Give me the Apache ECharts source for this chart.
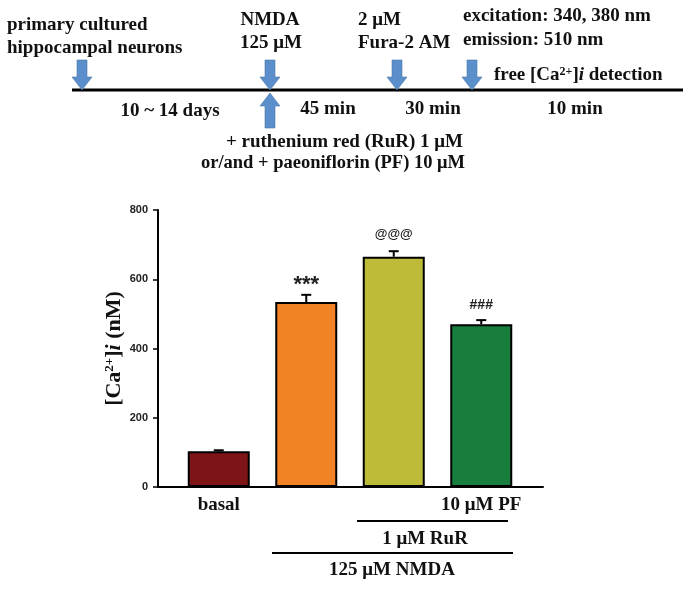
<!DOCTYPE html>
<html>
<head>
<meta charset="utf-8">
<script src="https://cdn.jsdelivr.net/npm/echarts@6/dist/echarts.min.js"></script>
<style>
  html, body { margin: 0; padding: 0; background: #fff; }
  #chart { width: 692px; height: 589px; }
</style>
</head>
<body>
<div id="chart"></div>
<script>
// groups on the bar chart
const categories = ['basal', 'NMDA', 'NMDA + RuR', 'NMDA + RuR + PF'];
const tickLabels = ['basal', '', '', '10 μM PF'];
const meanValues = [103, 534, 665, 470];
const upperError = [106, 555, 681, 482];
const marks = ['', '***', '@@@', '###'];
const barColors = ['#7d1416', '#f28325', '#bdbb38', '#177e3d'];
const yTicks = [0, 200, 400, 600, 800];

const serif = '"Liberation Serif", "Times New Roman", serif';
const sans = '"Liberation Sans", Arial, sans-serif';

const chartDom = document.getElementById('chart');
const myChart = echarts.init(chartDom);

// blue block arrows of the protocol timeline
const arrowColor = '#5b8fcb';
function downArrow(cx, top, tip) {
    const head = tip - 13;
    return {
        type: 'polygon',
        shape: {points: [[cx - 5, top], [cx + 5, top], [cx + 5, head], [cx + 10, head],
                         [cx, tip], [cx - 10, head], [cx - 5, head]]},
        style: {fill: arrowColor, stroke: '#4a77a8', lineWidth: 0.6}
    };
}
function upArrow(cx, tip, bottom) {
    const head = tip + 13;
    return {
        type: 'polygon',
        shape: {points: [[cx - 5, bottom], [cx + 5, bottom], [cx + 5, head], [cx + 10, head],
                         [cx, tip], [cx - 10, head], [cx - 5, head]]},
        style: {fill: arrowColor, stroke: '#4a77a8', lineWidth: 0.6}
    };
}
function label(text, x, y, align, size) {
    return {
        type: 'text',
        style: {text: text, x: x, y: y, textAlign: align || 'left', textVerticalAlign: 'middle',
                font: 'bold ' + (size || 19) + 'px ' + serif, fill: '#111'}
    };
}

const graphics = [
    {type: 'line', shape: {x1: 72, y1: 90, x2: 683, y2: 90}, style: {stroke: '#000', lineWidth: 3}},
    downArrow(82, 60, 90),
    downArrow(270, 60, 90),
    downArrow(397, 60, 90),
    downArrow(472, 60, 90),
    upArrow(270, 93, 128),
    label('primary cultured', 7, 25),
    label('hippocampal neurons', 7, 48),
    label('NMDA', 270, 20, 'center'),
    label('125 μM', 271, 43, 'center'),
    label('2 μM', 358, 20),
    label('Fura-2 AM', 358, 43),
    label('excitation: 340, 380 nm', 463, 16),
    label('emission: 510 nm', 463, 40),
    {
        type: 'text',
        style: {
            text: '{a|free [Ca}{s|2+}{a|]}{i|i}{a| detection}',
            x: 494, y: 75, textVerticalAlign: 'middle',
            rich: {
                a: {font: 'bold 19px ' + serif, fill: '#111'},
                s: {font: 'bold 12px ' + serif, fill: '#111', verticalAlign: 'top'},
                i: {font: 'italic bold 19px ' + serif, fill: '#111'}
            }
        }
    },
    label('10 ~ 14 days', 170, 111, 'center'),
    label('45 min', 328, 109, 'center'),
    label('30 min', 433, 109, 'center'),
    label('10 min', 575, 109, 'center'),
    label('+ ruthenium red (RuR) 1 μM', 463, 142, 'right'),
    label('or/and + paeoniflorin (PF) 10 μM', 465, 163, 'right', 18.5),
    // treatment bars under the x axis
    {type: 'line', shape: {x1: 357, y1: 521, x2: 508, y2: 521}, style: {stroke: '#000', lineWidth: 2}},
    label('1 μM RuR', 425, 539, 'center'),
    {type: 'line', shape: {x1: 272, y1: 553, x2: 513, y2: 553}, style: {stroke: '#000', lineWidth: 2}},
    label('125 μM NMDA', 392, 570, 'center')
];

const markFont = ['12px', '22px', '13px', '14px'];
const markOffset = [15, 10, 17, 15];

const option = {
    animation: false,
    backgroundColor: '#fff',
    grid: [
        {left: 175, width: 350, top: 210, height: 277},
        {left: 158, width: 385, top: 210, height: 277}
    ],
    xAxis: [
        {
            type: 'category', gridIndex: 0, data: categories,
            axisLine: {show: false}, axisTick: {show: false},
            axisLabel: {
                margin: 9, interval: 0,
                formatter: (v, i) => tickLabels[i],
                fontFamily: serif, fontWeight: 'bold', fontSize: 19, color: '#111'
            }
        },
        {
            type: 'value', gridIndex: 1, min: 0, max: 1,
            axisLine: {show: true, lineStyle: {color: '#000', width: 2}},
            axisTick: {show: false}, axisLabel: {show: false}, splitLine: {show: false}
        }
    ],
    yAxis: [
        {type: 'value', gridIndex: 0, min: 0, max: 800, show: false},
        {
            type: 'value', gridIndex: 1, min: 0, max: 800, interval: 200,
            axisLine: {show: true, lineStyle: {color: '#000', width: 2}},
            axisTick: {show: true, length: 5, lineStyle: {color: '#000', width: 1.5}},
            axisLabel: {
                margin: 10, fontFamily: sans, fontWeight: 'bold', fontSize: 11, color: '#222',
                formatter: v => (yTicks.indexOf(v) >= 0 ? String(v) : '')
            },
            splitLine: {show: false},
            name: '{b|[Ca}{s|2+}{b|]}{i|i}{b| (nM)}',
            nameLocation: 'middle', nameRotate: 90, nameGap: 33,
            nameMoveOverlap: false,
            nameTextStyle: {
                rich: {
                    b: {fontFamily: serif, fontWeight: 'bold', fontSize: 22, color: '#111'},
                    s: {fontFamily: serif, fontWeight: 'bold', fontSize: 13, color: '#111', verticalAlign: 'top'},
                    i: {fontFamily: serif, fontWeight: 'bold', fontStyle: 'italic', fontSize: 22, color: '#111'}
                }
            }
        }
    ],
    series: [
        {
            type: 'custom',
            xAxisIndex: 0, yAxisIndex: 0,
            data: categories.map((c, i) => [i, meanValues[i], upperError[i]]),
            renderItem: (params, api) => {
                const i = params.dataIndex;
                const base = api.coord([api.value(0), api.value(1)]);
                const top = api.coord([api.value(0), api.value(2)]);
                const x = base[0];
                return {
                    type: 'group',
                    children: [
                        {type: 'line', shape: {x1: x, y1: base[1], x2: x, y2: top[1]},
                         style: {stroke: '#000', lineWidth: 2}},
                        {type: 'line', shape: {x1: x - 5, y1: top[1], x2: x + 5, y2: top[1]},
                         style: {stroke: '#000', lineWidth: 2}},
                        {type: 'text', style: {
                            text: marks[i], x: x, y: top[1] - markOffset[i],
                            textAlign: 'center', textVerticalAlign: 'middle',
                            font: 'bold ' + markFont[i] + ' ' + sans,
                            fill: '#222'}}
                    ]
                };
            },
            z: 1
        },
        {
            type: 'bar',
            xAxisIndex: 0, yAxisIndex: 0,
            barWidth: 62,
            data: meanValues.map((v, i) => ({
                value: v,
                itemStyle: {color: barColors[i], borderColor: '#000', borderWidth: 2}
            })),
            z: 2
        }
    ],
    graphic: graphics
};

option && myChart.setOption(option);
</script>
</body>
</html>
